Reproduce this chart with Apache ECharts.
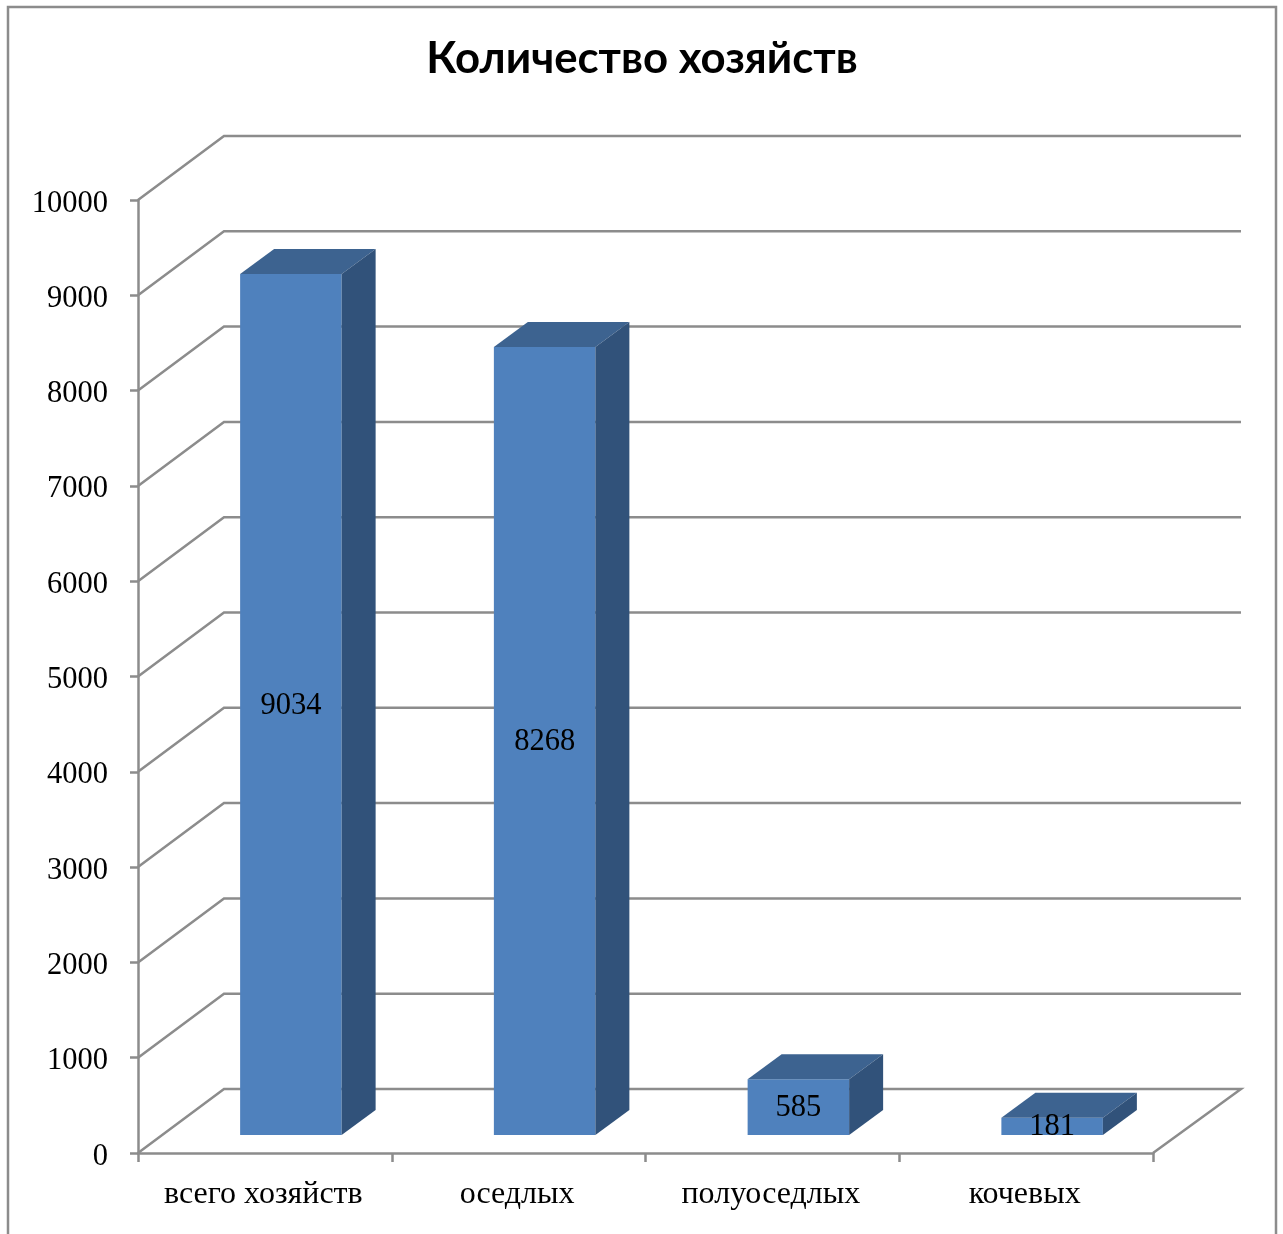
<!DOCTYPE html>
<html>
<head>
<meta charset="utf-8">
<style>html,body{margin:0;padding:0;background:#fff}#c{width:1283px;height:1234px}</style>
<script src="https://cdn.jsdelivr.net/npm/echarts@6/dist/echarts.min.js"></script>
</head>
<body>
<div id="c"></div>
<script>
const categories = ['всего хозяйств', 'оседлых', 'полуоседлых', 'кочевых'];
const householdValues = [9034, 8268, 585, 181];
const gridTicks = [0, 1000, 2000, 3000, 4000, 5000, 6000, 7000, 8000, 9000, 10000];

const WALL_DX = 86, WALL_DY = -64, WALL_END = 88;
const BAR_DX = 26, BAR_DY = -18, SIDE_DX = 34, SIDE_DY = -25;
const LINE = '#8c8c8c', FRONT = '#4f81bd', TOP = '#3d6390', SIDE = '#31527a';
const serif = '"Liberation Serif", serif';

const chart = echarts.init(document.getElementById('c'), null, {renderer: 'canvas'});

function renderWall(params, api) {
  const v = api.value(1);
  const y = api.coord([0, v])[1];
  const x0 = params.coordSys.x, x1 = x0 + params.coordSys.width;
  const pts = [[x0, y], [x0 + WALL_DX, y + WALL_DY], [x1 + WALL_END, y + WALL_DY]];
  if (v === 0) pts.push([x1, y]);
  return {type: 'polyline', shape: {points: pts},
    style: {stroke: LINE, lineWidth: 2.5, fill: null}};
}

function renderBar(params, api) {
  const cat = api.value(0), v = api.value(1);
  const top = api.coord([cat, v]), base = api.coord([cat, 0]);
  const w = api.size([1, 0])[0] * 0.4;
  const l = top[0] - w / 2 + BAR_DX, r = l + w;
  const t = top[1] + BAR_DY, b = base[1] + BAR_DY;
  const poly = (points, fill) => ({type: 'polygon', shape: {points}, style: {fill}});
  return {type: 'group', children: [
    poly([[l, t], [r, t], [r, b], [l, b]], FRONT),
    poly([[l, t], [l + SIDE_DX, t + SIDE_DY], [r + SIDE_DX, t + SIDE_DY], [r, t]], TOP),
    poly([[r, t], [r + SIDE_DX, t + SIDE_DY], [r + SIDE_DX, b + SIDE_DY], [r, b]], SIDE),
    {type: 'text', z2: 10, style: {x: (l + r) / 2, y: (t + b) / 2 + 1, text: String(v),
      font: '30.5px ' + serif, fill: '#000', align: 'center', verticalAlign: 'middle'}}
  ]};
}

chart.setOption({
  animation: false,
  backgroundColor: '#fff',
  title: {
    text: 'Количество хозяйств', left: 637, top: 32, textAlign: 'center',
    textStyle: {fontFamily: 'Lato', fontWeight: 'bold', fontSize: 43.7, color: '#000'}
  },
  graphic: [{
    type: 'polyline', silent: true,
    shape: {points: [[8, 1234], [8, 7], [1276, 7], [1276, 1234]]},
    style: {stroke: '#8c8c8c', lineWidth: 2.5, fill: null}
  }],
  grid: {left: 138, top: 200, width: 1015, height: 953, containLabel: false},
  xAxis: {
    type: 'category', data: categories,
    axisLine: {show: true, lineStyle: {color: LINE, width: 2.5}},
    axisTick: {show: true, alignWithLabel: false, length: 9, lineStyle: {color: LINE, width: 2.5}},
    axisLabel: {margin: 26, interval: 0, color: '#000',
      formatter: s => '{a|' + s + '}',
      rich: {a: {fontFamily: serif, fontSize: 32, color: '#000', padding: [0, 3, 0, 0]}}},
    splitLine: {show: false}
  },
  yAxis: {
    type: 'value', min: 0, max: 10000, interval: 1000,
    axisLine: {show: true, lineStyle: {color: LINE, width: 2.5}},
    axisTick: {show: true, length: 8, lineStyle: {color: LINE, width: 2.5}},
    axisLabel: {margin: 30, color: '#000',
      formatter: v => '{a|' + v + '}',
      rich: {a: {fontFamily: serif, fontSize: 30.5, color: '#000', padding: [7, 0, 0, 0]}}},
    splitLine: {show: false}
  },
  series: [
    {type: 'custom', name: 'wall', z: 1, clip: false, silent: true,
     renderItem: renderWall, data: gridTicks.map(t => [0, t])},
    {type: 'custom', name: 'Количество хозяйств', z: 3, clip: false,
     renderItem: renderBar, encode: {x: 0, y: 1},
     data: householdValues.map((v, i) => [i, v])}
  ]
});
</script>
</body>
</html>
